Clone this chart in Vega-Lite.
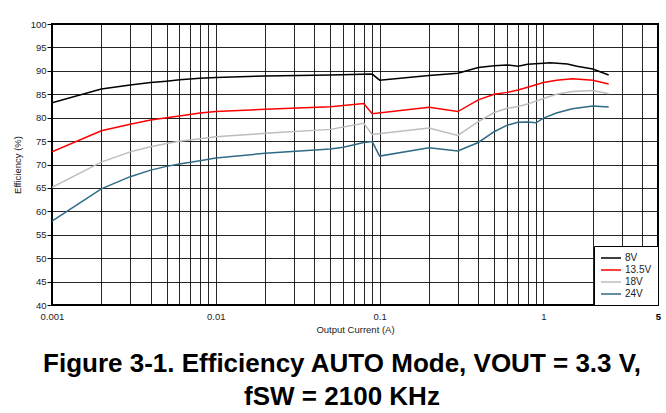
{
  "$schema": "https://vega.github.io/schema/vega-lite/v6.json",
  "autosize": "none",
  "width": 606,
  "height": 281,
  "padding": {"left": 52, "top": 24, "right": 8, "bottom": 108},
  "background": "white",
  "title": {
    "text": ["Figure 3-1. Efficiency AUTO Mode, VOUT = 3.3 V,", "fSW = 2100 KHz"],
    "orient": "bottom",
    "anchor": "middle",
    "font": "Liberation Sans",
    "fontSize": 26,
    "fontWeight": "bold",
    "lineHeight": 33,
    "color": "#000",
    "offset": 17,
    "dx": -13
  },
  "config": {
    "font": "Liberation Sans",
    "view": {"stroke": "#000", "strokeWidth": 2},
    "axis": {"labelFont": "Liberation Sans", "titleFont": "Liberation Sans", "labelColor": "#222", "titleColor": "#222", "gridColor": "#000", "gridOpacity": 0.85, "gridWidth": 1}
  },
  "data": {
    "values": [
      {"I": 0.001, "eff": 83.2, "V": "8V"},
      {"I": 0.002, "eff": 86.1, "V": "8V"},
      {"I": 0.003, "eff": 87.0, "V": "8V"},
      {"I": 0.004, "eff": 87.5, "V": "8V"},
      {"I": 0.005, "eff": 87.8, "V": "8V"},
      {"I": 0.006, "eff": 88.1, "V": "8V"},
      {"I": 0.008, "eff": 88.4, "V": "8V"},
      {"I": 0.01, "eff": 88.6, "V": "8V"},
      {"I": 0.02, "eff": 88.9, "V": "8V"},
      {"I": 0.05, "eff": 89.1, "V": "8V"},
      {"I": 0.09, "eff": 89.3, "V": "8V"},
      {"I": 0.1, "eff": 88.0, "V": "8V"},
      {"I": 0.2, "eff": 89.0, "V": "8V"},
      {"I": 0.3, "eff": 89.5, "V": "8V"},
      {"I": 0.4, "eff": 90.7, "V": "8V"},
      {"I": 0.5, "eff": 91.1, "V": "8V"},
      {"I": 0.6, "eff": 91.25, "V": "8V"},
      {"I": 0.7, "eff": 91.0, "V": "8V"},
      {"I": 0.8, "eff": 91.4, "V": "8V"},
      {"I": 1, "eff": 91.6, "V": "8V"},
      {"I": 1.1, "eff": 91.7, "V": "8V"},
      {"I": 1.4, "eff": 91.45, "V": "8V"},
      {"I": 1.6, "eff": 91.0, "V": "8V"},
      {"I": 2, "eff": 90.4, "V": "8V"},
      {"I": 2.5, "eff": 89.1, "V": "8V"},
      {"I": 0.001, "eff": 72.7, "V": "13.5V"},
      {"I": 0.002, "eff": 77.2, "V": "13.5V"},
      {"I": 0.003, "eff": 78.6, "V": "13.5V"},
      {"I": 0.004, "eff": 79.5, "V": "13.5V"},
      {"I": 0.005, "eff": 80.0, "V": "13.5V"},
      {"I": 0.006, "eff": 80.35, "V": "13.5V"},
      {"I": 0.008, "eff": 81.0, "V": "13.5V"},
      {"I": 0.01, "eff": 81.3, "V": "13.5V"},
      {"I": 0.02, "eff": 81.8, "V": "13.5V"},
      {"I": 0.05, "eff": 82.35, "V": "13.5V"},
      {"I": 0.08, "eff": 83.0, "V": "13.5V"},
      {"I": 0.09, "eff": 80.85, "V": "13.5V"},
      {"I": 0.2, "eff": 82.2, "V": "13.5V"},
      {"I": 0.3, "eff": 81.3, "V": "13.5V"},
      {"I": 0.4, "eff": 83.8, "V": "13.5V"},
      {"I": 0.5, "eff": 85.0, "V": "13.5V"},
      {"I": 0.6, "eff": 85.4, "V": "13.5V"},
      {"I": 0.7, "eff": 85.9, "V": "13.5V"},
      {"I": 0.8, "eff": 86.5, "V": "13.5V"},
      {"I": 1, "eff": 87.5, "V": "13.5V"},
      {"I": 1.2, "eff": 88.0, "V": "13.5V"},
      {"I": 1.5, "eff": 88.3, "V": "13.5V"},
      {"I": 2, "eff": 88.0, "V": "13.5V"},
      {"I": 2.5, "eff": 87.2, "V": "13.5V"},
      {"I": 0.001, "eff": 65.1, "V": "18V"},
      {"I": 0.002, "eff": 70.5, "V": "18V"},
      {"I": 0.003, "eff": 72.7, "V": "18V"},
      {"I": 0.004, "eff": 73.8, "V": "18V"},
      {"I": 0.005, "eff": 74.5, "V": "18V"},
      {"I": 0.006, "eff": 74.95, "V": "18V"},
      {"I": 0.008, "eff": 75.5, "V": "18V"},
      {"I": 0.01, "eff": 75.9, "V": "18V"},
      {"I": 0.02, "eff": 76.65, "V": "18V"},
      {"I": 0.05, "eff": 77.5, "V": "18V"},
      {"I": 0.08, "eff": 78.8, "V": "18V"},
      {"I": 0.09, "eff": 76.4, "V": "18V"},
      {"I": 0.2, "eff": 77.8, "V": "18V"},
      {"I": 0.3, "eff": 76.2, "V": "18V"},
      {"I": 0.4, "eff": 79.15, "V": "18V"},
      {"I": 0.5, "eff": 81.1, "V": "18V"},
      {"I": 0.6, "eff": 82.0, "V": "18V"},
      {"I": 0.7, "eff": 82.4, "V": "18V"},
      {"I": 0.8, "eff": 82.9, "V": "18V"},
      {"I": 1, "eff": 84.1, "V": "18V"},
      {"I": 1.2, "eff": 85.0, "V": "18V"},
      {"I": 1.5, "eff": 85.6, "V": "18V"},
      {"I": 2, "eff": 85.8, "V": "18V"},
      {"I": 2.5, "eff": 85.1, "V": "18V"},
      {"I": 0.001, "eff": 57.9, "V": "24V"},
      {"I": 0.002, "eff": 64.8, "V": "24V"},
      {"I": 0.003, "eff": 67.4, "V": "24V"},
      {"I": 0.004, "eff": 68.8, "V": "24V"},
      {"I": 0.005, "eff": 69.6, "V": "24V"},
      {"I": 0.006, "eff": 70.1, "V": "24V"},
      {"I": 0.008, "eff": 70.8, "V": "24V"},
      {"I": 0.01, "eff": 71.4, "V": "24V"},
      {"I": 0.02, "eff": 72.4, "V": "24V"},
      {"I": 0.05, "eff": 73.3, "V": "24V"},
      {"I": 0.06, "eff": 73.7, "V": "24V"},
      {"I": 0.08, "eff": 74.7, "V": "24V"},
      {"I": 0.09, "eff": 74.9, "V": "24V"},
      {"I": 0.1, "eff": 71.8, "V": "24V"},
      {"I": 0.2, "eff": 73.6, "V": "24V"},
      {"I": 0.3, "eff": 72.9, "V": "24V"},
      {"I": 0.4, "eff": 74.7, "V": "24V"},
      {"I": 0.5, "eff": 77.0, "V": "24V"},
      {"I": 0.6, "eff": 78.4, "V": "24V"},
      {"I": 0.7, "eff": 79.0, "V": "24V"},
      {"I": 0.8, "eff": 79.1, "V": "24V"},
      {"I": 0.9, "eff": 78.9, "V": "24V"},
      {"I": 1, "eff": 79.9, "V": "24V"},
      {"I": 1.2, "eff": 81.0, "V": "24V"},
      {"I": 1.5, "eff": 81.9, "V": "24V"},
      {"I": 2, "eff": 82.5, "V": "24V"},
      {"I": 2.5, "eff": 82.3, "V": "24V"}
    ]
  },
  "mark": {"type": "line", "strokeWidth": 1.5, "clip": true},
  "encoding": {
    "x": {
      "field": "I",
      "type": "quantitative",
      "scale": {"type": "log", "domain": [0.001, 5], "nice": false},
      "axis": {
        "title": "Output Current (A)",
        "titleFontSize": 9.5,
        "titleFontWeight": "normal",
        "titlePadding": 4,
        "values": [0.001, 0.002, 0.003, 0.004, 0.005, 0.006, 0.007, 0.008, 0.009, 0.01, 0.02, 0.03, 0.04, 0.05, 0.06, 0.07, 0.08, 0.09, 0.1, 0.2, 0.3, 0.4, 0.5, 0.6, 0.7, 0.8, 0.9, 1, 2, 3, 4, 5],
        "format": "~g",
        "labelExpr": "(datum.value == 0.001 || datum.value == 0.01 || datum.value == 0.1 || datum.value == 1 || datum.value == 5) ? datum.label : ''",
        "labelFontSize": 9.5,
        "labelFontWeight": {"condition": {"test": "datum.value == 5", "value": "bold"}, "value": "normal"},
        "labelColor": {"condition": {"test": "datum.value == 5", "value": "#000"}, "value": "#222"},
        "labelOverlap": false,
        "labelFlush": false,
        "labelBound": false,
        "labelPadding": 6,
        "ticks": false,
        "domain": false,
        "grid": true
      }
    },
    "y": {
      "field": "eff",
      "type": "quantitative",
      "scale": {"domain": [40, 100], "nice": false, "zero": false},
      "axis": {
        "title": "Efficiency (%)",
        "titleFontSize": 9.5,
        "titleFontWeight": "normal",
        "titlePadding": 8,
        "values": [40, 45, 50, 55, 60, 65, 70, 75, 80, 85, 90, 95, 100],
        "labelFontSize": 9.5,
        "labelPadding": 1,
        "tickSize": 5,
        "tickColor": "#000",
        "domain": true,
        "domainColor": "#000",
        "grid": true
      }
    },
    "color": {
      "field": "V",
      "type": "nominal",
      "scale": {"domain": ["8V", "13.5V", "18V", "24V"], "range": ["#000000", "#ff0000", "#bdbdbd", "#2f6a87"]},
      "legend": {
        "title": null,
        "orient": "bottom-right",
        "offset": 0,
        "strokeColor": "#000",
        "fillColor": "#fff",
        "padding": 6,
        "labelFontSize": 10,
        "labelColor": "#222",
        "labelOffset": 8,
        "symbolOffset": 5,
        "symbolType": "M-2,0H2",
        "symbolSize": 100,
        "symbolStrokeWidth": 1.5,
        "rowPadding": 1
      }
    }
  }
}
